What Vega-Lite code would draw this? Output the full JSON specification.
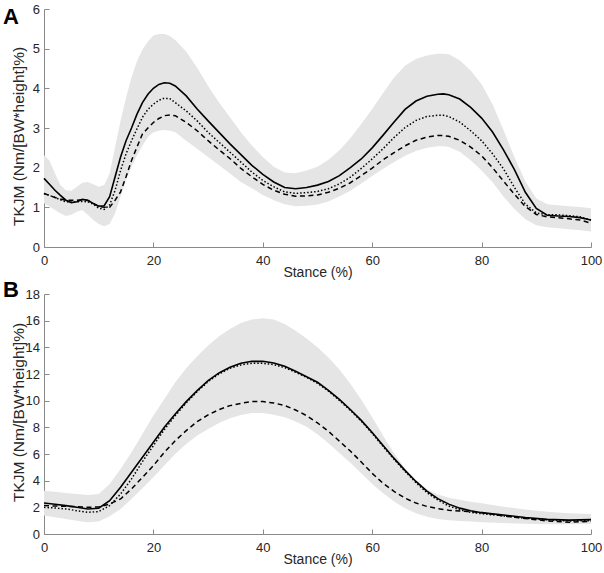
{
  "$schema": "https://vega.github.io/schema/vega-lite/v6.json",
  "padding": {"left": 3, "top": 3, "right": 0, "bottom": 0},
  "background": "white",
  "config": {
    "font": "Liberation Sans",
    "view": {"stroke": null},
    "axis": {
      "domainColor": "#8a8a8a",
      "tickColor": "#8a8a8a",
      "labelColor": "#262626",
      "titleColor": "#262626",
      "labelFontSize": 13,
      "titleFontSize": 14,
      "titleFontWeight": "normal",
      "grid": false,
      "tickSize": -5,
      "domainWidth": 1,
      "tickWidth": 1
    },
    "axisY": {"labelPadding": 9.5, "titleX": -18, "titleFontSize": 15.5},
    "axisX": {"labelPadding": 12, "titleX": 273.5, "titleY": 18.5, "labelFlush": false}
  },
  "datasets": {
    "A": [
      {"x":0,"solid":1.73,"dotted":1.35,"dashed":1.35,"lo":1.1,"hi":2.31},
      {"x":1,"solid":1.58,"dotted":1.30,"dashed":1.30,"lo":1.02,"hi":2.18},
      {"x":2,"solid":1.43,"dotted":1.25,"dashed":1.25,"lo":0.93,"hi":1.85},
      {"x":3,"solid":1.30,"dotted":1.19,"dashed":1.21,"lo":0.85,"hi":1.56},
      {"x":4,"solid":1.18,"dotted":1.14,"dashed":1.18,"lo":0.78,"hi":1.43},
      {"x":5,"solid":1.12,"dotted":1.13,"dashed":1.18,"lo":0.81,"hi":1.42},
      {"x":6,"solid":1.14,"dotted":1.14,"dashed":1.18,"lo":0.89,"hi":1.52},
      {"x":7,"solid":1.20,"dotted":1.15,"dashed":1.19,"lo":0.93,"hi":1.62},
      {"x":8,"solid":1.18,"dotted":1.14,"dashed":1.17,"lo":0.81,"hi":1.64},
      {"x":9,"solid":1.10,"dotted":1.08,"dashed":1.10,"lo":0.68,"hi":1.58},
      {"x":10,"solid":1.03,"dotted":0.98,"dashed":1.02,"lo":0.58,"hi":1.52},
      {"x":11,"solid":1.04,"dotted":0.95,"dashed":1.00,"lo":0.52,"hi":1.56},
      {"x":12,"solid":1.27,"dotted":1.06,"dashed":1.00,"lo":0.58,"hi":1.85},
      {"x":13,"solid":1.77,"dotted":1.43,"dashed":1.18,"lo":0.85,"hi":2.52},
      {"x":14,"solid":2.27,"dotted":1.93,"dashed":1.39,"lo":1.27,"hi":3.18},
      {"x":15,"solid":2.68,"dotted":2.35,"dashed":1.77,"lo":1.68,"hi":3.77},
      {"x":16,"solid":3.00,"dotted":2.68,"dashed":2.18,"lo":2.02,"hi":4.27},
      {"x":17,"solid":3.35,"dotted":2.98,"dashed":2.52,"lo":2.31,"hi":4.68},
      {"x":18,"solid":3.64,"dotted":3.27,"dashed":2.85,"lo":2.56,"hi":4.98},
      {"x":19,"solid":3.85,"dotted":3.47,"dashed":3.00,"lo":2.77,"hi":5.18},
      {"x":20,"solid":4.00,"dotted":3.60,"dashed":3.14,"lo":2.89,"hi":5.33},
      {"x":21,"solid":4.10,"dotted":3.70,"dashed":3.24,"lo":2.93,"hi":5.37},
      {"x":22,"solid":4.14,"dotted":3.75,"dashed":3.31,"lo":2.95,"hi":5.37},
      {"x":23,"solid":4.13,"dotted":3.74,"dashed":3.33,"lo":2.93,"hi":5.32},
      {"x":24,"solid":4.06,"dotted":3.64,"dashed":3.31,"lo":2.89,"hi":5.22},
      {"x":26,"solid":3.81,"dotted":3.43,"dashed":3.14,"lo":2.68,"hi":4.93},
      {"x":28,"solid":3.48,"dotted":3.18,"dashed":2.93,"lo":2.48,"hi":4.52},
      {"x":30,"solid":3.18,"dotted":2.89,"dashed":2.68,"lo":2.27,"hi":4.06},
      {"x":32,"solid":2.89,"dotted":2.64,"dashed":2.45,"lo":2.06,"hi":3.64},
      {"x":34,"solid":2.60,"dotted":2.39,"dashed":2.23,"lo":1.85,"hi":3.27},
      {"x":36,"solid":2.33,"dotted":2.14,"dashed":1.98,"lo":1.64,"hi":2.89},
      {"x":38,"solid":2.06,"dotted":1.89,"dashed":1.77,"lo":1.48,"hi":2.56},
      {"x":40,"solid":1.83,"dotted":1.68,"dashed":1.58,"lo":1.31,"hi":2.27},
      {"x":42,"solid":1.64,"dotted":1.52,"dashed":1.43,"lo":1.18,"hi":2.02},
      {"x":44,"solid":1.50,"dotted":1.39,"dashed":1.33,"lo":1.08,"hi":1.88},
      {"x":46,"solid":1.47,"dotted":1.35,"dashed":1.28,"lo":1.03,"hi":1.86},
      {"x":48,"solid":1.50,"dotted":1.37,"dashed":1.29,"lo":1.04,"hi":1.93},
      {"x":50,"solid":1.56,"dotted":1.40,"dashed":1.31,"lo":1.07,"hi":2.02},
      {"x":52,"solid":1.65,"dotted":1.47,"dashed":1.38,"lo":1.15,"hi":2.20},
      {"x":54,"solid":1.80,"dotted":1.59,"dashed":1.48,"lo":1.27,"hi":2.44},
      {"x":56,"solid":2.00,"dotted":1.76,"dashed":1.62,"lo":1.42,"hi":2.74},
      {"x":58,"solid":2.22,"dotted":1.98,"dashed":1.80,"lo":1.60,"hi":3.10},
      {"x":60,"solid":2.50,"dotted":2.22,"dashed":1.99,"lo":1.79,"hi":3.48},
      {"x":62,"solid":2.82,"dotted":2.48,"dashed":2.20,"lo":1.97,"hi":3.88},
      {"x":64,"solid":3.15,"dotted":2.76,"dashed":2.38,"lo":2.14,"hi":4.27},
      {"x":66,"solid":3.47,"dotted":3.01,"dashed":2.55,"lo":2.30,"hi":4.57},
      {"x":68,"solid":3.68,"dotted":3.19,"dashed":2.69,"lo":2.42,"hi":4.74},
      {"x":70,"solid":3.80,"dotted":3.29,"dashed":2.77,"lo":2.50,"hi":4.83},
      {"x":72,"solid":3.85,"dotted":3.32,"dashed":2.81,"lo":2.54,"hi":4.87},
      {"x":73,"solid":3.86,"dotted":3.32,"dashed":2.81,"lo":2.54,"hi":4.87},
      {"x":74,"solid":3.84,"dotted":3.29,"dashed":2.79,"lo":2.52,"hi":4.86},
      {"x":76,"solid":3.73,"dotted":3.15,"dashed":2.69,"lo":2.40,"hi":4.71},
      {"x":78,"solid":3.52,"dotted":2.93,"dashed":2.52,"lo":2.19,"hi":4.45},
      {"x":80,"solid":3.25,"dotted":2.68,"dashed":2.30,"lo":1.93,"hi":4.10},
      {"x":82,"solid":2.90,"dotted":2.35,"dashed":2.00,"lo":1.63,"hi":3.60},
      {"x":84,"solid":2.45,"dotted":1.97,"dashed":1.66,"lo":1.27,"hi":2.95},
      {"x":86,"solid":1.95,"dotted":1.50,"dashed":1.33,"lo":0.96,"hi":2.27},
      {"x":88,"solid":1.38,"dotted":1.08,"dashed":1.02,"lo":0.70,"hi":1.65},
      {"x":90,"solid":0.97,"dotted":0.86,"dashed":0.82,"lo":0.55,"hi":1.22},
      {"x":92,"solid":0.80,"dotted":0.81,"dashed":0.76,"lo":0.50,"hi":1.08},
      {"x":94,"solid":0.78,"dotted":0.81,"dashed":0.74,"lo":0.47,"hi":1.05},
      {"x":96,"solid":0.77,"dotted":0.79,"dashed":0.71,"lo":0.45,"hi":1.03},
      {"x":98,"solid":0.74,"dotted":0.76,"dashed":0.68,"lo":0.42,"hi":1.01},
      {"x":100,"solid":0.68,"dotted":0.68,"dashed":0.60,"lo":0.39,"hi":0.98}
    ],
    "B": [
      {"x":0,"solid":2.33,"dotted":2.00,"dashed":2.13,"lo":1.38,"hi":3.25},
      {"x":2,"solid":2.23,"dotted":1.95,"dashed":2.10,"lo":1.25,"hi":3.16},
      {"x":4,"solid":2.13,"dotted":1.88,"dashed":2.08,"lo":1.13,"hi":3.08},
      {"x":6,"solid":2.00,"dotted":1.75,"dashed":2.05,"lo":1.00,"hi":3.00},
      {"x":8,"solid":1.88,"dotted":1.63,"dashed":2.00,"lo":0.88,"hi":2.93},
      {"x":10,"solid":1.93,"dotted":1.68,"dashed":2.03,"lo":0.93,"hi":3.00},
      {"x":12,"solid":2.50,"dotted":2.13,"dashed":2.25,"lo":1.33,"hi":3.75},
      {"x":14,"solid":3.50,"dotted":3.00,"dashed":2.63,"lo":1.88,"hi":4.88},
      {"x":16,"solid":4.63,"dotted":4.13,"dashed":3.38,"lo":2.63,"hi":6.13},
      {"x":18,"solid":5.75,"dotted":5.43,"dashed":4.25,"lo":3.43,"hi":7.50},
      {"x":20,"solid":6.88,"dotted":6.63,"dashed":5.13,"lo":4.25,"hi":8.88},
      {"x":22,"solid":8.00,"dotted":7.83,"dashed":6.13,"lo":5.13,"hi":10.13},
      {"x":24,"solid":9.00,"dotted":8.88,"dashed":7.00,"lo":6.00,"hi":11.38},
      {"x":26,"solid":9.93,"dotted":9.83,"dashed":7.75,"lo":6.75,"hi":12.43},
      {"x":28,"solid":10.75,"dotted":10.68,"dashed":8.43,"lo":7.38,"hi":13.33},
      {"x":30,"solid":11.50,"dotted":11.43,"dashed":8.93,"lo":7.88,"hi":14.13},
      {"x":32,"solid":12.08,"dotted":12.00,"dashed":9.33,"lo":8.33,"hi":14.83},
      {"x":34,"solid":12.50,"dotted":12.43,"dashed":9.63,"lo":8.68,"hi":15.38},
      {"x":36,"solid":12.80,"dotted":12.68,"dashed":9.80,"lo":8.93,"hi":15.83},
      {"x":38,"solid":12.95,"dotted":12.80,"dashed":9.93,"lo":9.08,"hi":16.08},
      {"x":40,"solid":12.95,"dotted":12.80,"dashed":9.93,"lo":9.08,"hi":16.18},
      {"x":42,"solid":12.83,"dotted":12.70,"dashed":9.83,"lo":8.95,"hi":16.08},
      {"x":44,"solid":12.58,"dotted":12.48,"dashed":9.63,"lo":8.75,"hi":15.75},
      {"x":46,"solid":12.20,"dotted":12.13,"dashed":9.30,"lo":8.43,"hi":15.25},
      {"x":48,"solid":11.80,"dotted":11.75,"dashed":8.88,"lo":8.05,"hi":14.66},
      {"x":50,"solid":11.38,"dotted":11.30,"dashed":8.33,"lo":7.48,"hi":14.00},
      {"x":52,"solid":10.78,"dotted":10.72,"dashed":7.70,"lo":6.80,"hi":13.24},
      {"x":54,"solid":10.09,"dotted":10.02,"dashed":6.97,"lo":6.08,"hi":12.33},
      {"x":56,"solid":9.34,"dotted":9.27,"dashed":6.22,"lo":5.35,"hi":11.26},
      {"x":58,"solid":8.52,"dotted":8.47,"dashed":5.40,"lo":4.55,"hi":10.06},
      {"x":60,"solid":7.61,"dotted":7.55,"dashed":4.55,"lo":3.75,"hi":8.75},
      {"x":62,"solid":6.63,"dotted":6.55,"dashed":3.80,"lo":3.05,"hi":7.37},
      {"x":64,"solid":5.67,"dotted":5.60,"dashed":3.19,"lo":2.43,"hi":6.06},
      {"x":66,"solid":4.77,"dotted":4.70,"dashed":2.69,"lo":1.93,"hi":4.91},
      {"x":68,"solid":3.94,"dotted":3.85,"dashed":2.32,"lo":1.56,"hi":3.99},
      {"x":70,"solid":3.22,"dotted":3.10,"dashed":2.07,"lo":1.30,"hi":3.36},
      {"x":72,"solid":2.65,"dotted":2.55,"dashed":1.90,"lo":1.13,"hi":2.96},
      {"x":74,"solid":2.24,"dotted":2.10,"dashed":1.79,"lo":1.04,"hi":2.72},
      {"x":76,"solid":1.94,"dotted":1.82,"dashed":1.72,"lo":0.97,"hi":2.56},
      {"x":78,"solid":1.75,"dotted":1.62,"dashed":1.67,"lo":0.93,"hi":2.42},
      {"x":80,"solid":1.60,"dotted":1.52,"dashed":1.61,"lo":0.89,"hi":2.30},
      {"x":84,"solid":1.42,"dotted":1.36,"dashed":1.36,"lo":0.82,"hi":2.05},
      {"x":88,"solid":1.24,"dotted":1.18,"dashed":1.16,"lo":0.76,"hi":1.84},
      {"x":92,"solid":1.10,"dotted":1.06,"dashed":0.98,"lo":0.73,"hi":1.66},
      {"x":96,"solid":1.04,"dotted":0.98,"dashed":0.88,"lo":0.73,"hi":1.56},
      {"x":100,"solid":1.08,"dotted":1.00,"dashed":0.95,"lo":0.75,"hi":1.50}
    ]
  },
  "vconcat": [
    {
      "width": 547,
      "height": 238,
      "data": {"name": "A"},
      "title": {"text": "A", "anchor": "start", "frame": "group", "orient": "top", "offset": 0, "dx": -41, "dy": 43, "baseline": "alphabetic", "fontSize": 22, "fontWeight": "bold", "color": "#000000", "font": "Liberation Sans"},
      "encoding": {
        "x": {"field": "x", "type": "quantitative", "scale": {"domain": [0, 100], "nice": false}, "title": "Stance (%)",
              "axis": {"values": [0, 20, 40, 60, 80, 100]}}
      },
      "layer": [
        {"mark": {"type": "area", "color": "#e5e5e5", "opacity": 1},
         "encoding": {"y": {"field": "lo", "type": "quantitative", "scale": {"domain": [0, 6], "nice": false}, "title": "TKJM (Nm/[BW*height]%)",
                            "axis": {"values": [0, 1, 2, 3, 4, 5, 6], "titleY": 127}},
                      "y2": {"field": "hi"}}},
        {"mark": {"type": "line", "color": "#000000", "strokeWidth": 1.5, "strokeDash": [5, 3.5]},
         "encoding": {"y": {"field": "dashed", "type": "quantitative", "title": "TKJM (Nm/[BW*height]%)", "axis": {"values": [0, 1, 2, 3, 4, 5, 6], "titleY": 127}}}},
        {"mark": {"type": "line", "color": "#000000", "strokeWidth": 1.5, "strokeDash": [1.5, 2]},
         "encoding": {"y": {"field": "dotted", "type": "quantitative", "title": "TKJM (Nm/[BW*height]%)", "axis": {"values": [0, 1, 2, 3, 4, 5, 6], "titleY": 127}}}},
        {"mark": {"type": "line", "color": "#000000", "strokeWidth": 1.6},
         "encoding": {"y": {"field": "solid", "type": "quantitative", "title": "TKJM (Nm/[BW*height]%)", "axis": {"values": [0, 1, 2, 3, 4, 5, 6], "titleY": 127}}}}
      ]
    },
    {
      "width": 547,
      "height": 240,
      "data": {"name": "B"},
      "title": {"text": "B", "anchor": "start", "frame": "group", "orient": "top", "offset": 0, "dx": -41, "dy": 30.5, "baseline": "alphabetic", "fontSize": 22, "fontWeight": "bold", "color": "#000000", "font": "Liberation Sans"},
      "encoding": {
        "x": {"field": "x", "type": "quantitative", "scale": {"domain": [0, 100], "nice": false}, "title": "Stance (%)",
              "axis": {"values": [0, 20, 40, 60, 80, 100]}}
      },
      "layer": [
        {"mark": {"type": "area", "color": "#e5e5e5", "opacity": 1},
         "encoding": {"y": {"field": "lo", "type": "quantitative", "scale": {"domain": [0, 18], "nice": false}, "title": "TKJM (Nm/[BW*height]%)",
                            "axis": {"values": [0, 2, 4, 6, 8, 10, 12, 14, 16, 18], "titleY": 118}},
                      "y2": {"field": "hi"}}},
        {"mark": {"type": "line", "color": "#000000", "strokeWidth": 1.5, "strokeDash": [5, 3.5]},
         "encoding": {"y": {"field": "dashed", "type": "quantitative", "title": "TKJM (Nm/[BW*height]%)", "axis": {"values": [0, 2, 4, 6, 8, 10, 12, 14, 16, 18], "titleY": 118}}}},
        {"mark": {"type": "line", "color": "#000000", "strokeWidth": 1.5, "strokeDash": [1.5, 2]},
         "encoding": {"y": {"field": "dotted", "type": "quantitative", "title": "TKJM (Nm/[BW*height]%)", "axis": {"values": [0, 2, 4, 6, 8, 10, 12, 14, 16, 18], "titleY": 118}}}},
        {"mark": {"type": "line", "color": "#000000", "strokeWidth": 1.6},
         "encoding": {"y": {"field": "solid", "type": "quantitative", "title": "TKJM (Nm/[BW*height]%)", "axis": {"values": [0, 2, 4, 6, 8, 10, 12, 14, 16, 18], "titleY": 118}}}}
      ]
    }
  ],
  "bounds": "flush",
  "spacing": 47
}
